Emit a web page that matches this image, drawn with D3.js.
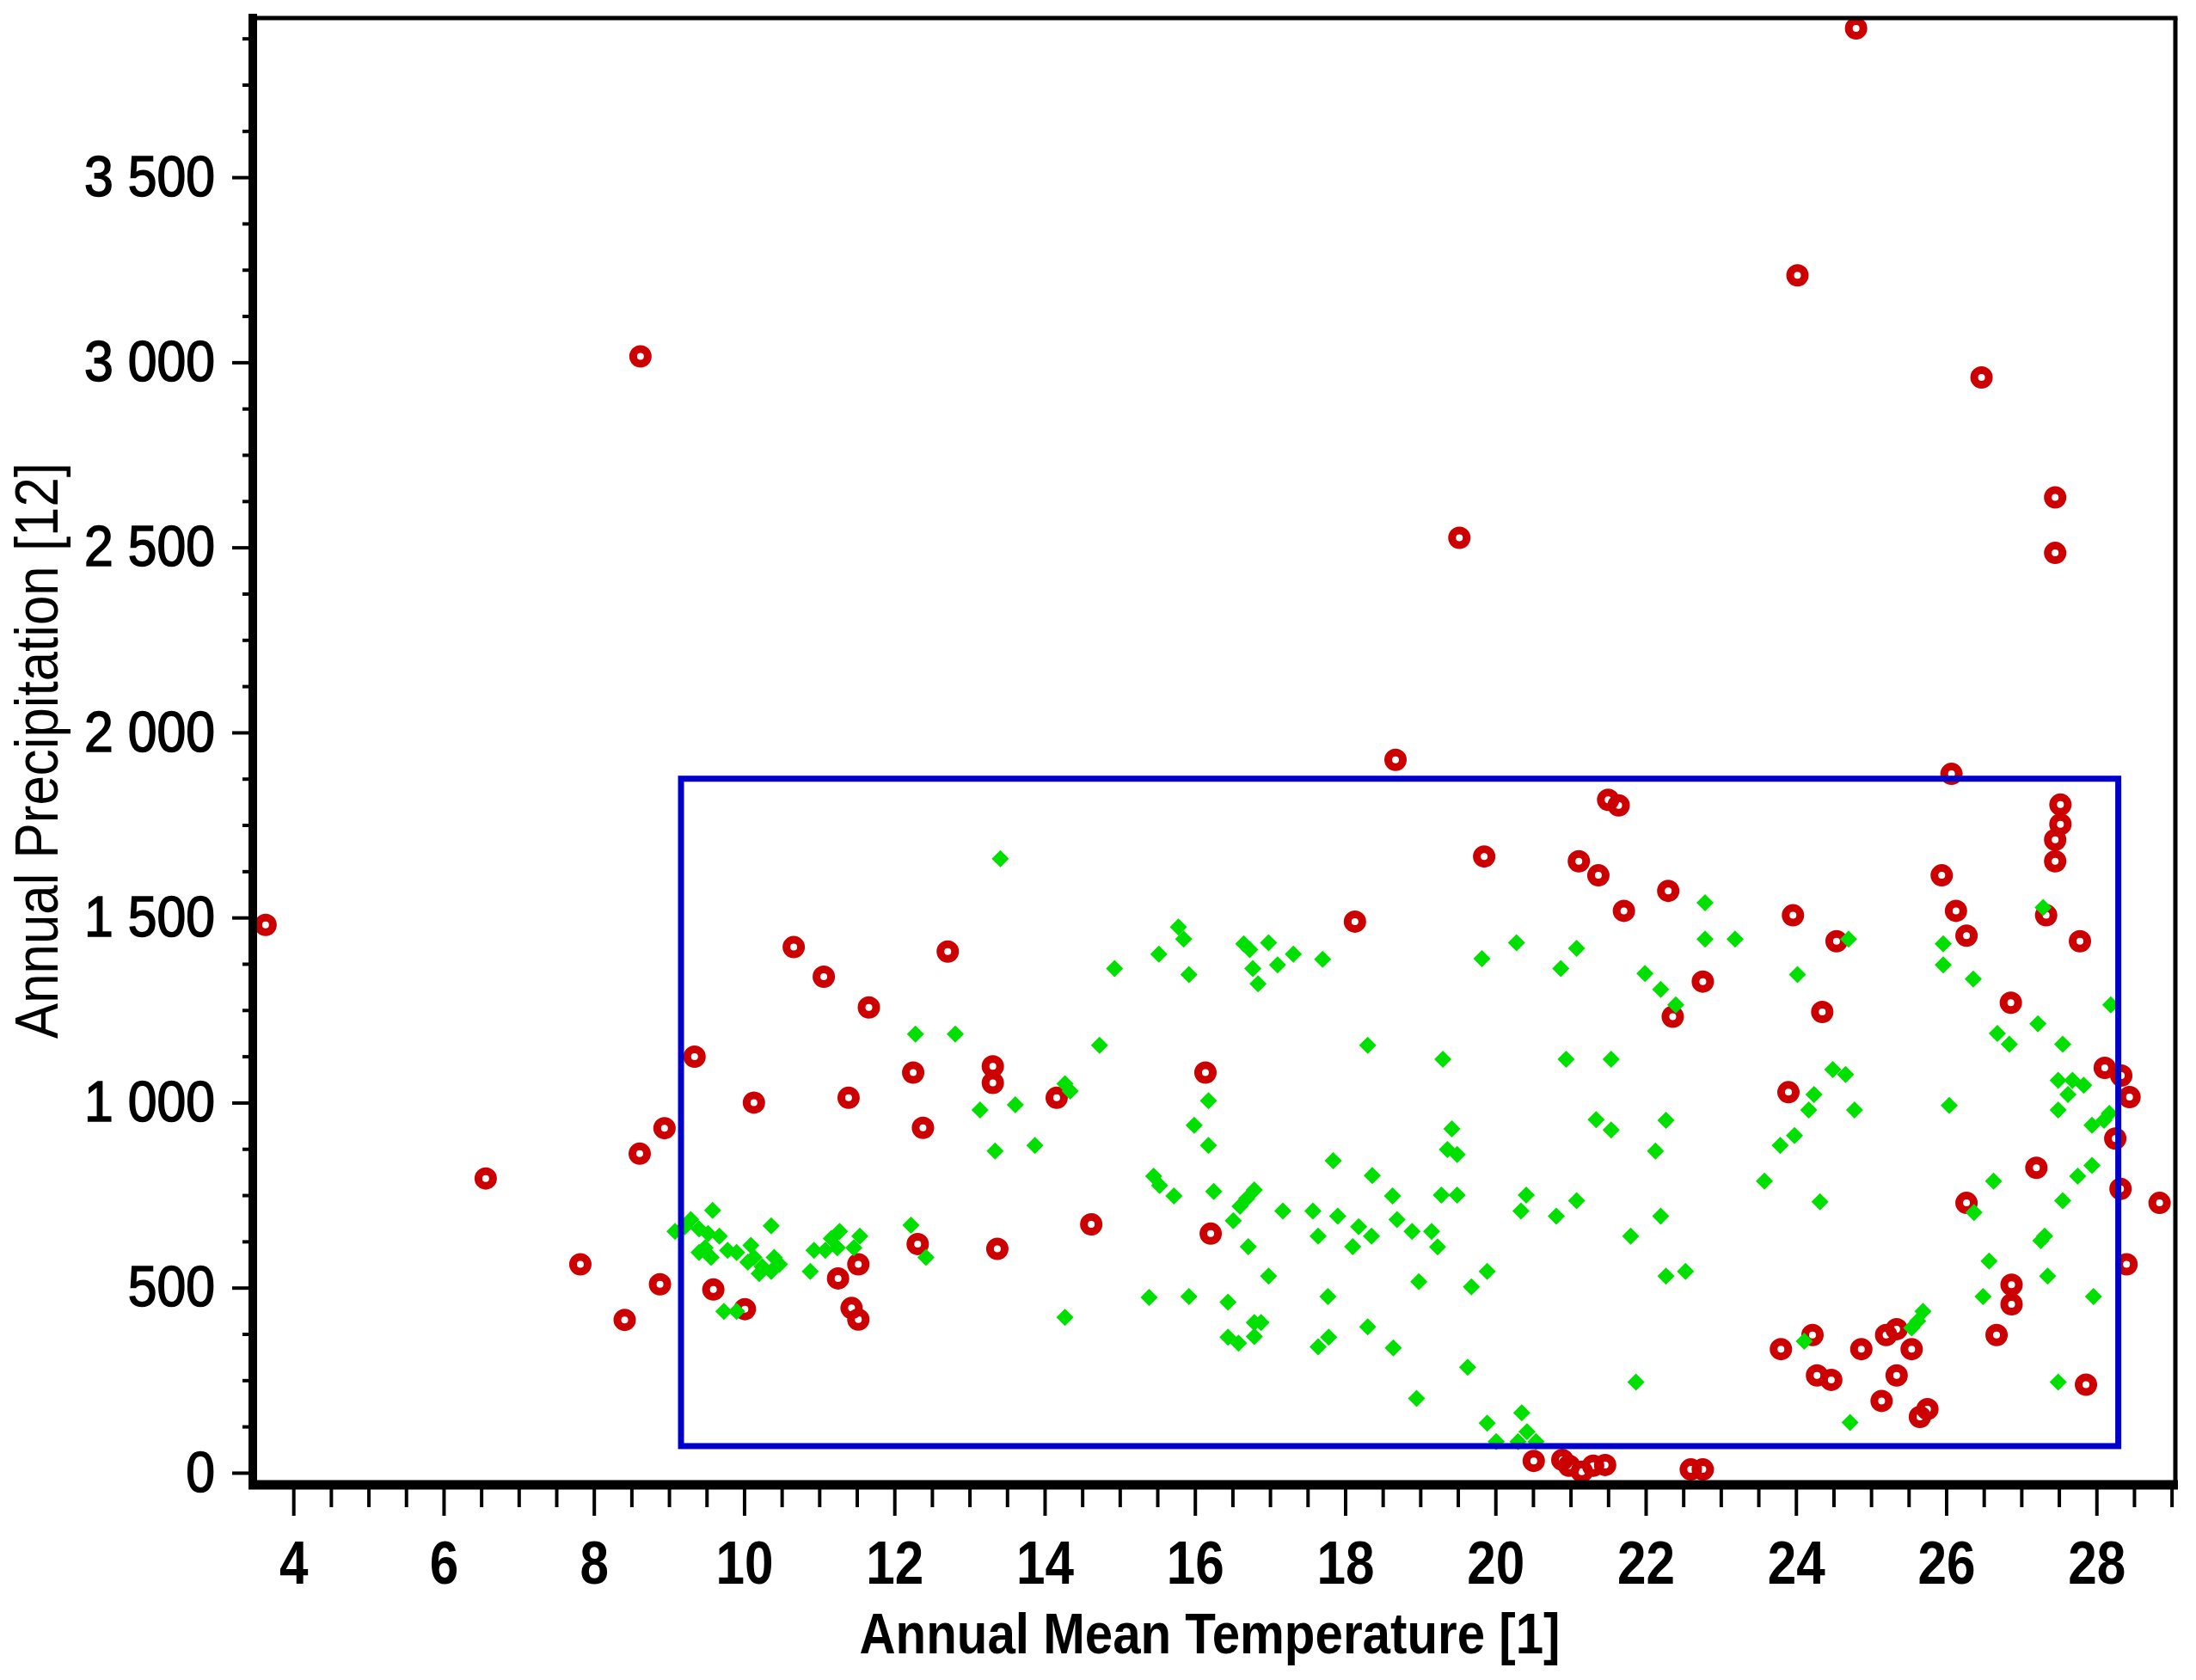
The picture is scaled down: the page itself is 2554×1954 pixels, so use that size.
<!DOCTYPE html>
<html>
<head>
<meta charset="utf-8">
<script src="https://cdn.jsdelivr.net/npm/d3@7"></script>
<style>
  body { margin: 0; background: #fff; }
  svg { display: block; }
  text { font-family: "Liberation Sans", Arial, sans-serif; fill: #000; }
</style>
</head>
<body>
<div id="chart"></div>
<script>
// values: temperature (x) and precipitation (y)
const redTemp = [3.63, 8.62, 6.56, 8.61, 8.94, 7.82, 8.88, 8.41,
  10.66, 11.06, 11.66, 12.71, 9.34, 10.13, 11.39, 12.25, 12.38, 13.31, 13.31,
  9.59, 10.01, 11.25, 11.52, 11.43, 11.52, 12.31, 13.37,
  18.67, 18.13, 16.14, 14.16, 14.62, 16.21,
  21.50, 21.64, 19.85, 21.11, 21.37, 22.30, 21.71, 22.76, 22.36,
  20.51, 20.89, 20.98, 21.15, 21.30, 21.46, 22.60, 22.76,
  26.07, 27.52, 27.52, 27.45, 27.45, 25.94, 26.13, 26.27, 27.33, 27.78,
  23.96, 24.54, 24.35, 26.86, 23.90, 28.11, 28.33, 28.44, 28.25, 28.32,
  28.84, 28.40, 27.20, 26.27, 26.87, 26.87, 26.67, 27.86,
  24.22, 24.87, 25.20, 25.34, 25.54, 24.28, 24.47, 25.34, 25.14, 25.65, 25.75, 23.80,
  24.80, 24.02, 26.47, 27.45, 27.45, 19.52];
const redPrecip = [1480, 3016, 795, 862, 931, 563, 509, 413,
  1420, 1340, 1257, 1408, 1124, 1000, 1013, 1081, 932, 1098, 1053,
  495, 442, 525, 563, 445, 414, 618, 605,
  1926, 1489, 1081, 1013, 671, 646,
  1818, 1803, 1665, 1652, 1614, 1572, 1518, 1327, 1232,
  32, 35, 19, 3, 19, 21, 9, 9,
  1888, 1805, 1752, 1710, 1652, 1614, 1518, 1451, 1506, 1436,
  1506, 1436, 1245, 1270, 1028, 1094, 1073, 1015, 903, 767,
  729, 563, 824, 729, 508, 455, 372, 238,
  372, 334, 372, 388, 334, 263, 251, 263, 194, 151, 172, 334,
  3902, 3235, 2959, 2635, 2485, 2526];

const greenTemp = [13.41, 12.28, 12.81, 13.14, 13.61, 13.34, 13.87, 12.22, 12.42,
  9.58, 10.36, 10.88, 9.73, 9.90, 9.08,
  9.29, 9.40, 9.52, 9.67, 9.48, 9.56, 9.40, 9.78, 9.90, 10.09, 10.13, 10.24,
  10.05, 10.40, 10.47, 10.36, 10.20, 9.21,
  10.93, 11.08, 11.16, 11.27, 11.24, 11.54, 11.46,
  15.78, 15.85, 15.52, 14.93, 15.92, 16.65, 16.73, 16.98, 16.77, 17.10, 17.31,
  16.84, 17.70, 14.73, 18.30, 14.27, 14.34, 16.18, 15.99, 16.18, 15.45, 15.53,
  15.72, 16.25, 16.79, 16.69, 16.60, 16.51, 16.71, 17.17, 17.57, 17.90, 17.64,
  18.18, 18.35, 18.10, 17.84, 18.36, 18.63, 18.69, 18.89, 16.98, 15.39, 15.92,
  16.44, 14.27, 16.79, 16.88, 16.79, 16.44, 16.58, 17.77, 18.30, 17.78, 17.64,
  18.64, 18.95, 18.98,
  22.79, 22.79, 23.19, 24.02, 21.99, 22.20, 22.40, 20.28, 19.82, 21.08, 20.87,
  19.30, 20.94, 21.54, 21.34, 21.54, 22.27, 22.13, 19.42, 19.36, 19.49, 19.28,
  19.49, 20.41, 20.34, 20.81, 21.08, 21.80, 22.20, 19.15, 19.23, 19.68, 19.89,
  22.27, 22.53, 23.79, 23.98, 23.58, 19.63, 21.87, 19.89, 20.35, 20.01, 20.30,
  20.42, 20.54,
  27.29, 24.70, 25.96, 25.96, 26.36, 28.19, 27.22, 26.68, 26.84, 27.55, 24.49,
  24.66, 24.24, 24.17, 24.78, 26.04, 27.49, 27.68, 27.83, 27.62, 27.49, 27.94,
  28.10, 28.17, 27.94, 27.75, 27.55, 26.63, 26.37, 24.32, 27.31, 27.26, 26.57,
  27.35, 26.49, 27.96, 25.69, 25.62, 25.54, 24.11, 27.49, 24.72];
const greenPrecip = [1659, 1185, 1185, 980, 994, 869, 884, 669, 582,
  709, 667, 544, 436, 436, 652,
  684, 659, 646, 639, 608, 582, 595, 601, 595, 614, 582, 557,
  569, 582, 563, 544, 538, 665,
  601, 601, 633, 652, 608, 639, 608,
  1474, 1442, 1401, 1362, 1346, 1429, 1413, 1432, 1362, 1372, 1401,
  1321, 1387, 1155, 1155, 1051, 1031, 1005, 939, 884, 801, 776,
  748, 760, 764, 741, 720, 681, 611, 707, 707, 693, 639,
  665, 639, 611, 843, 803, 748, 684, 652, 531, 474, 476,
  461, 420, 406, 406, 368, 366, 350, 476, 394, 366, 340,
  337, 201, 516,
  1540, 1442, 1442, 1346, 1349, 1306, 1264, 1432, 1389, 1417, 1362,
  1117, 1117, 1117, 954, 926, 952, 869, 929, 873, 860, 750,
  750, 750, 707, 693, 735, 639, 693, 652, 610, 502, 544,
  531, 544, 884, 911, 788, 285, 245, 134, 162, 84, 84,
  111, 84,
  1527, 1442, 1429, 1372, 1334, 1264, 1213, 1187, 1158, 1158, 1089,
  1076, 1022, 980, 980, 992, 1060, 1060, 1047, 1022, 980, 939,
  952, 971, 830, 801, 735, 788, 703, 732, 639, 627, 572,
  531, 476, 476, 436, 410, 391, 355, 245, 136];

// selection box (blue rectangle)
const boxTemp = [9.16, 28.29];
const boxPrecip = [72, 1875];

// ticks
const xMajor = d3.range(4, 29, 2);
const xMinor = d3.range(4.5, 29.01, 0.5).filter(v => v % 2 !== 0);
const yMajor = [0, 500, 1000, 1500, 2000, 2500, 3000, 3500];
const yMinor = d3.range(125, 3900, 125).filter(v => v % 500 !== 0);

const width = 2554, height = 1954;

const svg = d3.select("#chart")
  .append("svg")
    .attr("width", width)
    .attr("height", height);

svg.append("rect")
  .attr("width", width)
  .attr("height", height)
  .attr("fill", "#fff");

const x = d3.scaleLinear().domain([3.46, 29.05]).range([294, 2530]);
const y = d3.scaleLinear().domain([-28, 3930]).range([1725, 21]);

const fmt = d3.formatLocale({decimal: ".", thousands: " ", grouping: [3], currency: ["", ""]}).format(",");

// squeeze text horizontally, the picture's fonts are narrow
function squeeze(sel, k) {
  sel.each(function() {
    const w = this.getComputedTextLength();
    d3.select(this).attr("textLength", w * k).attr("lengthAdjust", "spacingAndGlyphs");
  });
}

// red circles
svg.append("g")
  .selectAll("circle")
  .data(redTemp.map((t, i) => [t, redPrecip[i]]))
  .join("circle")
    .attr("cx", d => x(d[0]))
    .attr("cy", d => y(d[1]))
    .attr("r", 8.5)
    .attr("fill", "none")
    .attr("stroke", "#cc0000")
    .attr("stroke-width", 9);

// green diamonds
const diamond = d3.symbol().type(d3.symbolSquare).size(200);
svg.append("g")
  .selectAll("path")
  .data(greenTemp.map((t, i) => [t, greenPrecip[i]]))
  .join("path")
    .attr("d", diamond)
    .attr("transform", d => `translate(${x(d[0])},${y(d[1])}) rotate(45)`)
    .attr("fill", "#00e000");

// blue box
svg.append("rect")
  .attr("x", x(boxTemp[0]))
  .attr("y", y(boxPrecip[1]))
  .attr("width", x(boxTemp[1]) - x(boxTemp[0]))
  .attr("height", y(boxPrecip[0]) - y(boxPrecip[1]))
  .attr("fill", "none")
  .attr("stroke", "#0000cc")
  .attr("stroke-width", 7);

// x axis
const axisY = 1727;
const xMinorAxis = svg.append("g")
  .attr("transform", `translate(0,${axisY})`)
  .call(d3.axisBottom(x).tickValues(xMinor).tickSize(26).tickFormat(""));
const xAxis = svg.append("g")
  .attr("transform", `translate(0,${axisY})`)
  .call(d3.axisBottom(x).tickValues(xMajor).tickSize(36).tickPadding(29).tickFormat(d3.format("d")));

// y axis
const axisX = 294;
const yMinorAxis = svg.append("g")
  .attr("transform", `translate(${axisX},0)`)
  .call(d3.axisLeft(y).tickValues(yMinor).tickSize(12).tickFormat(""));
const yAxis = svg.append("g")
  .attr("transform", `translate(${axisX},0)`)
  .call(d3.axisLeft(y).tickValues(yMajor).tickSize(24).tickPadding(20).tickFormat(fmt));

[xMinorAxis, xAxis, yMinorAxis, yAxis].forEach(a => {
  a.select(".domain").remove();
  a.selectAll(".tick line").attr("stroke", "#000").attr("stroke-width", 4);
});
xAxis.selectAll(".tick text")
  .attr("font-family", null)
  .attr("font-size", 70)
  .attr("font-weight", "bold")
  .call(squeeze, 0.86);
yAxis.selectAll(".tick text")
  .attr("font-family", null)
  .attr("font-size", 66)
  .attr("stroke", "#000")
  .attr("stroke-width", 1.6)
  .call(squeeze, 0.92);

// frame: thick left/bottom axes, thin top/right
svg.append("line")
  .attr("x1", x.range()[0] - 5).attr("x2", x.range()[1] + 3)
  .attr("y1", axisY).attr("y2", axisY)
  .attr("stroke", "#000").attr("stroke-width", 11);
svg.append("line")
  .attr("x1", axisX).attr("x2", axisX)
  .attr("y1", y.range()[1] - 5).attr("y2", axisY + 5)
  .attr("stroke", "#000").attr("stroke-width", 10);
svg.append("line")
  .attr("x1", axisX).attr("x2", x.range()[1] + 2.5)
  .attr("y1", y.range()[1]).attr("y2", y.range()[1])
  .attr("stroke", "#000").attr("stroke-width", 5);
svg.append("line")
  .attr("x1", x.range()[1]).attr("x2", x.range()[1])
  .attr("y1", y.range()[1]).attr("y2", axisY)
  .attr("stroke", "#000").attr("stroke-width", 5);

// axis titles
svg.append("text")
  .attr("x", 1407)
  .attr("y", 1923)
  .attr("text-anchor", "middle")
  .attr("font-size", 67)
  .attr("font-weight", "bold")
  .attr("textLength", 815)
  .attr("lengthAdjust", "spacingAndGlyphs")
  .text("Annual Mean Temperature [1]");

svg.append("text")
  .attr("transform", `translate(67,${(y.range()[0] + y.range()[1]) / 2}) rotate(-90)`)
  .attr("text-anchor", "middle")
  .attr("font-size", 70)
  .attr("textLength", 670)
  .attr("lengthAdjust", "spacingAndGlyphs")
  .text("Annual Precipitation [12]");
</script>
</body>
</html>
